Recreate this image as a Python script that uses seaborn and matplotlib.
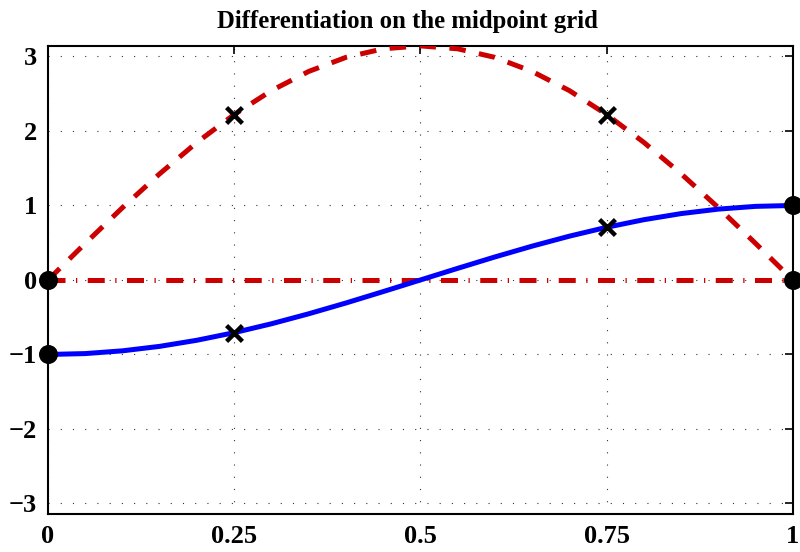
import numpy as np
import pandas as pd
import matplotlib
matplotlib.use("Agg")
import matplotlib.pyplot as plt
import seaborn as sns

# Data
x_curve = [0.0, 0.05, 0.1, 0.15, 0.2, 0.25, 0.3, 0.35, 0.4, 0.45, 0.5,
           0.55, 0.6, 0.65, 0.7, 0.75, 0.8, 0.85, 0.9, 0.95, 1.0]
blue_vals = [-1.0, -0.988, -0.951, -0.891, -0.809, -0.707, -0.588, -0.454, -0.309, -0.156, 0.0,
             0.156, 0.309, 0.454, 0.588, 0.707, 0.809, 0.891, 0.951, 0.988, 1.0]
red_vals = [0.0, 0.491, 0.971, 1.426, 1.847, 2.221, 2.542, 2.799, 2.988, 3.103, 3.142,
            3.103, 2.988, 2.799, 2.542, 2.221, 1.847, 1.426, 0.971, 0.491, 0.0]
zero_x = [0.0, 1.0]
zero_vals = [0.0, 0.0]
circle_x = [0.0, 0.0, 1.0, 1.0]
circle_y = [-1.0, 0.0, 1.0, 0.0]
cross_x = [0.25, 0.75, 0.25, 0.75]
cross_y = [2.221, 2.221, -0.707, 0.707]
xticks = [0, 0.25, 0.5, 0.75, 1]
xtick_labels = ["0", "0.25", "0.5", "0.75", "1"]
yticks = [-3, -2, -1, 0, 1, 2, 3]
ytick_labels = ["\u22123", "\u22122", "\u22121", "0", "1", "2", "3"]
title = "Differentiation on the midpoint grid"

sns.set_theme(style="white")
plt.rcParams['font.family'] = ['Liberation Serif', 'DejaVu Serif']
plt.rcParams['font.weight'] = 'bold'
plt.rcParams['text.color'] = 'black'
plt.rcParams['axes.titlecolor'] = 'black'

fig = plt.figure(figsize=(8, 5.52), dpi=100)
ax = fig.add_axes([0.06, 0.0688, 0.931, 0.848])

df_blue = pd.DataFrame({"x": x_curve, "y": blue_vals})
df_red = pd.DataFrame({"x": x_curve, "y": red_vals})
df_zero = pd.DataFrame({"x": zero_x, "y": zero_vals})

LW = 3.6
sns.lineplot(data=df_zero, x="x", y="y", ax=ax, color="#cc0000", lw=LW,
             estimator=None, sort=False, zorder=3)
ax.lines[-1].set_dashes([3.4, 2.1, 0.25, 2.1])
ax.lines[-1].set_dash_capstyle("butt")
sns.lineplot(data=df_red, x="x", y="y", ax=ax, color="#cc0000", lw=LW,
             estimator=None, sort=False, zorder=3)
ax.lines[-1].set_dashes([3.3, 2.7])
ax.lines[-1].set_dash_capstyle("butt")
sns.lineplot(data=df_blue, x="x", y="y", ax=ax, color="#0000ff", lw=LW,
             estimator=None, sort=False, zorder=4)

sns.scatterplot(x=circle_x, y=circle_y, ax=ax, color="black", s=160,
                marker="o", edgecolor="black", zorder=6, clip_on=False)
sns.scatterplot(x=cross_x, y=cross_y, ax=ax, color="black", s=130,
                marker="x", linewidth=3.2, zorder=6, clip_on=False)

ax.set_xlim(0, 1)
ax.set_ylim(-np.pi, np.pi)
ax.set_xticks(xticks)
ax.set_xticklabels(xtick_labels)
ax.set_yticks(yticks)
ax.set_yticklabels(ytick_labels)
ax.set_xlabel("")
ax.set_ylabel("")
ax.grid(True, color="black", linestyle=(0, (1, 10)), linewidth=0.8, alpha=0.8)
ax.tick_params(direction="in", length=6, width=1.2, top=True, right=True,
               labelsize=19, pad=8, colors="black")
for lab in ax.get_xticklabels() + ax.get_yticklabels():
    lab.set_fontweight("bold")
for s in ax.spines.values():
    s.set_linewidth(1.5)
    s.set_color("black")
    s.set_visible(True)
ax.set_title(title, fontsize=17.8, fontweight="bold", pad=13, color="black", x=0.483)

fig.savefig("out.png", dpi=100)
